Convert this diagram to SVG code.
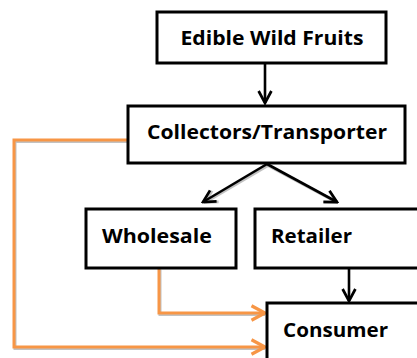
<svg xmlns="http://www.w3.org/2000/svg" width="417" height="358" viewBox="0 0 417 358">
<defs>
<style>
.box{fill:#fff;stroke:#000;stroke-width:3}
.t{font-family:"Open Sans","Liberation Sans",sans-serif;font-weight:bold;font-size:19px;fill:#000}
.blk{fill:none;stroke:#000;stroke-width:2.6}
.org{fill:none;stroke:#F79646;stroke-width:3}
.sh{fill:none;stroke:#999;stroke-width:3;opacity:0.6}
</style>
<marker id="ab" viewBox="0 0 10 10" refX="9" refY="5" markerWidth="16" markerHeight="16" orient="auto" markerUnits="userSpaceOnUse">
<path d="M1.5,1 L9,5 L1.5,9" fill="none" stroke="#000" stroke-width="1.7"/>
</marker>
<marker id="ao" viewBox="0 0 10 10" refX="9" refY="5" markerWidth="18" markerHeight="18" orient="auto" markerUnits="userSpaceOnUse">
<path d="M1.5,1 L9,5 L1.5,9" fill="none" stroke="#F79646" stroke-width="1.8"/>
</marker>
<marker id="as" viewBox="0 0 10 10" refX="9" refY="5" markerWidth="16" markerHeight="16" orient="auto" markerUnits="userSpaceOnUse">
<path d="M1.5,1 L9,5 L1.5,9" fill="none" stroke="#999" stroke-width="1.7"/>
</marker>
</defs>
<g id="connectors">
<g transform="translate(1,1.5)">
<path class="sh" d="M128,140 L14,140 L14,347 L264,347"/>
<path class="sh" d="M159,268 L159,313 L264,313"/>
<path class="sh" d="M267,164 L204,201" marker-end="url(#as)"/>
<path class="sh" d="M267,164 L336,201" marker-end="url(#as)"/>
</g>
<path class="org" d="M128,140 L14,140 L14,347 L265,347" marker-end="url(#ao)"/>
<path class="org" d="M159,268 L159,313 L265,313" marker-end="url(#ao)"/>
<line class="blk" x1="265" y1="64" x2="265" y2="103" marker-end="url(#ab)"/>
<line class="blk" x1="267" y1="164" x2="203" y2="202" marker-end="url(#ab)"/>
<line class="blk" x1="267" y1="164" x2="337" y2="202" marker-end="url(#ab)"/>
<line class="blk" x1="349" y1="268" x2="349" y2="301" marker-end="url(#ab)"/>
</g>
<g id="node-edible">
<rect class="box" x="157" y="12" width="229" height="51"/>
<text class="t" x="272" y="45" text-anchor="middle" textLength="183" lengthAdjust="spacingAndGlyphs">Edible Wild Fruits</text>
</g>
<g id="node-collectors">
<rect class="box" x="128" y="106" width="277" height="57"/>
<text class="t" x="267" y="139" text-anchor="middle" textLength="240" lengthAdjust="spacingAndGlyphs">Collectors/Transporter</text>
</g>
<g id="node-wholesale">
<rect class="box" x="86" y="209" width="150" height="59"/>
<text class="t" x="102" y="243" textLength="110" lengthAdjust="spacingAndGlyphs">Wholesale</text>
</g>
<g id="node-retailer">
<rect class="box" x="255" y="209" width="170" height="59"/>
<text class="t" x="271" y="243" textLength="81" lengthAdjust="spacingAndGlyphs">Retailer</text>
</g>
<g id="node-consumer">
<rect class="box" x="267" y="303" width="160" height="70"/>
<text class="t" x="283" y="337" textLength="105" lengthAdjust="spacingAndGlyphs">Consumer</text>
</g>
</svg>
